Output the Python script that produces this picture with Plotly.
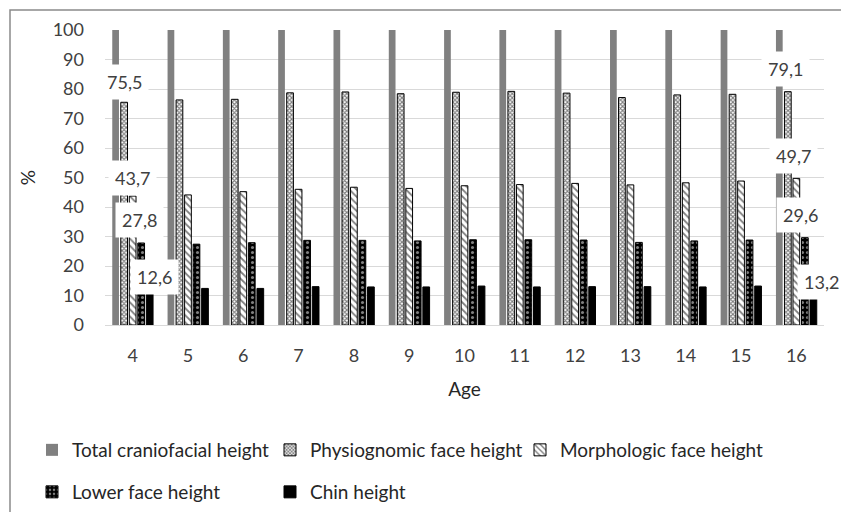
import plotly.graph_objects as go

# ---------------- data ----------------
ages = [4, 5, 6, 7, 8, 9, 10, 11, 12, 13, 14, 15, 16]
series_names = ["Total craniofacial height", "Physiognomic face height",
                "Morphologic face height", "Lower face height", "Chin height"]
total_craniofacial = [100, 100, 100, 100, 100, 100, 100, 100, 100, 100, 100, 100, 100]
physiognomic = [75.5, 76.3, 76.5, 78.7, 79.0, 78.4, 78.9, 79.2, 78.6, 77.1, 78.0, 78.2, 79.1]
morphologic = [43.7, 44.1, 45.2, 46.0, 46.7, 46.3, 47.2, 47.6, 48.0, 47.5, 48.2, 48.8, 49.7]
lower_face = [27.8, 27.4, 27.9, 28.7, 28.7, 28.5, 28.9, 28.9, 28.8, 28.0, 28.5, 28.8, 29.6]
chin = [12.6, 12.4, 12.4, 13.0, 12.9, 12.9, 13.2, 12.9, 13.0, 13.0, 12.9, 13.2, 13.2]
y_ticks = [0, 10, 20, 30, 40, 50, 60, 70, 80, 90, 100]
labelled_ages = [4, 16]

all_values = [total_craniofacial, physiognomic, morphologic, lower_face, chin]

# ---------------- layout constants ----------------
W, H = 841, 512
ML, MR, MT, MB = 105, 17, 30, 187
PW, PH = W - ML - MR, H - MT - MB
FONT = "Lato"
TXT = "#404040"
BARGAP = 0.23
BARGROUPGAP = 0.21


def px_x(p):
    return (p - ML) / PW


def px_y(p):
    return (H - MB - p) / PH


styles = [
    dict(color="#808080", line=dict(width=0)),
    dict(color="white", line=dict(color="black", width=1),
         pattern=dict(shape="x", fgcolor="black", bgcolor="white", size=3, solidity=0.6)),
    dict(color="white", line=dict(color="black", width=1),
         pattern=dict(shape="\\", fgcolor="black", bgcolor="white", size=5, solidity=0.35)),
    dict(color="black", line=dict(color="black", width=1),
         pattern=dict(shape=".", fgcolor="white", bgcolor="black", size=5, solidity=0.3)),
    dict(color="black", line=dict(color="black", width=1)),
]

legend_ids = ["legend", "legend2", "legend3", "legend4", "legend5"]
legend_pos = [(32, 450), (270, 450), (520, 450), (32, 492), (270, 492)]

fig = go.Figure()
for i, (name, vals) in enumerate(zip(series_names, all_values)):
    fig.add_trace(go.Bar(
        x=ages, y=vals, name=name, marker=styles[i],
        legend=legend_ids[i], hoverinfo="x+y+name",
    ))

# data labels for the first and last age, for all but the total series
label_offsets = {
    (4, 1): (0, 20), (4, 2): (0, 18), (4, 3): (-2, 23), (4, 4): (5, 11),
    (16, 1): (-2, 23), (16, 2): (-3, 22), (16, 3): (-4, 23), (16, 4): (8, 4),
}
slot = (1 - BARGAP) / 5
annotations = []
for age in labelled_ages:
    idx = ages.index(age)
    for s in range(1, 5):
        v = all_values[s][idx]
        dx, dy = label_offsets[(age, s)]
        annotations.append(dict(
            x=age + (s - 2) * slot, y=v, xref="x", yref="y",
            text=f"{v:.1f}".replace(".", ","), showarrow=False,
            xanchor="center", yanchor="middle", xshift=dx, yshift=dy,
            bgcolor="white", borderpad=6,
            font=dict(family=FONT, size=18, color=TXT),
        ))

legend_layouts = {}
for lid, (lx, ly) in zip(legend_ids, legend_pos):
    legend_layouts[lid] = dict(
        x=px_x(lx), y=px_y(ly), xanchor="left", yanchor="middle",
        orientation="h", bgcolor="rgba(0,0,0,0)", borderwidth=0,
        font=dict(family=FONT, size=19, color="#262626"), traceorder="normal",
    )

fig.update_layout(
    width=W, height=H,
    margin=dict(l=ML, r=MR, t=MT, b=MB, autoexpand=False),
    paper_bgcolor="white", plot_bgcolor="white",
    barmode="group", bargap=BARGAP, bargroupgap=BARGROUPGAP,
    font=dict(family=FONT, size=18, color=TXT),
    showlegend=True,
    annotations=annotations,
    shapes=[dict(type="rect", xref="paper", yref="paper",
                 x0=px_x(10), y0=px_y(H + 20), x1=px_x(W + 20), y1=px_y(10),
                 line=dict(color="#8a8a8a", width=1.5), fillcolor="rgba(0,0,0,0)",
                 layer="below")],
    **legend_layouts,
)
fig.update_xaxes(
    range=[3.5, 16.5], tickmode="array", tickvals=ages, ticktext=[str(a) for a in ages],
    showgrid=False, zeroline=False, showline=True, linecolor="#d9d9d9", linewidth=1,
    ticks="", ticklabelstandoff=14, tickfont=dict(family=FONT, size=18, color=TXT),
    title=dict(text="Age", font=dict(family=FONT, size=19, color="#262626"), standoff=18),
    fixedrange=True,
)
fig.update_yaxes(
    range=[0, 100], tickmode="array", tickvals=y_ticks,
    showgrid=True, gridcolor="#d9d9d9", gridwidth=1, zeroline=False, showline=False,
    ticks="", ticklabelstandoff=20, tickfont=dict(family=FONT, size=18, color=TXT),
    title=dict(text="%", font=dict(family=FONT, size=19, color="#262626"), standoff=12),
    fixedrange=True,
)

fig.write_html("out.html")
